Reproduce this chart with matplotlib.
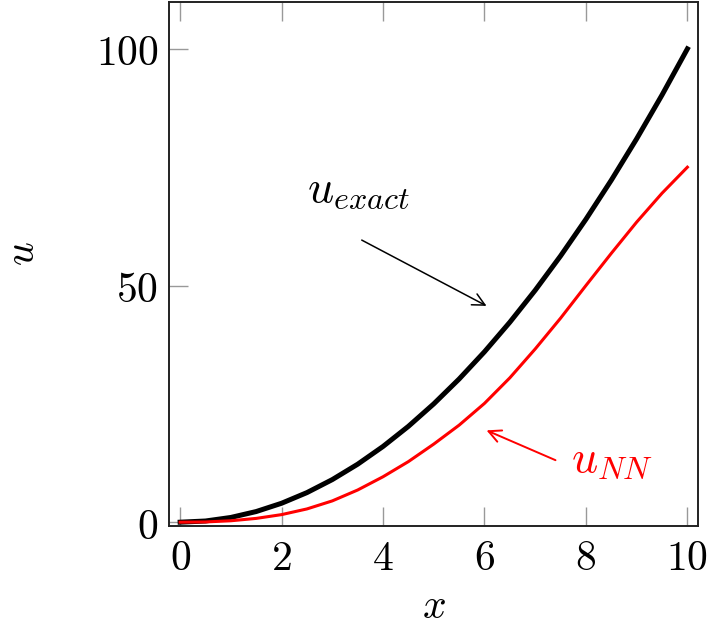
import matplotlib
matplotlib.use("Agg")
import matplotlib.pyplot as plt

# values
x_vals = [0, 0.5, 1, 1.5, 2, 2.5, 3, 3.5, 4, 4.5, 5, 5.5, 6, 6.5, 7, 7.5, 8, 8.5, 9, 9.5, 10]
u_exact = [0, 0.25, 1, 2.25, 4, 6.25, 9, 12.25, 16, 20.25, 25, 30.25, 36, 42.25,
           49, 56.25, 64, 72.25, 81, 90.25, 100]
u_nn = [0, 0.05, 0.3, 0.8, 1.6, 2.8, 4.5, 6.8, 9.6, 12.8, 16.5, 20.5, 25.1, 30.5,
        36.6, 43.1, 50.0, 56.8, 63.4, 69.5, 75.0]
x_ticks = [0, 2, 4, 6, 8, 10]
u_ticks = [0, 50, 100]

plt.rcParams['mathtext.fontset'] = 'cm'
FS = 30
FS_NOTE = 33

fig = plt.figure(figsize=(7.08, 6.35), dpi=100)
ax = fig.add_axes([0.2394, 0.1717, 0.7458, 0.8259])

ax.plot(x_vals, u_exact, color='black', lw=3.6, solid_joinstyle='round')
ax.plot(x_vals, u_nn, color='red', lw=2.2, solid_joinstyle='round')

ax.set_xlim(-0.21, 10.2)
ax.set_ylim(-0.8, 110)

ax.set_xticks(x_ticks)
ax.set_xticklabels([f'${t}$' for t in x_ticks], fontsize=FS)
ax.set_yticks(u_ticks)
ax.set_yticklabels([f'${t}$' for t in u_ticks], fontsize=FS)
ax.tick_params(axis='both', direction='in', length=14, width=1.0, color='#999999', pad=8)
ax.tick_params(axis='x', top=True)
for s in ax.spines.values():
    s.set_linewidth(1.4)
    s.set_color('#222222')

ax.set_xlabel('$x$', fontsize=FS)
ax.xaxis.set_label_coords(0.5, -0.113)
ax.set_ylabel('$u$', fontsize=FS)
ax.yaxis.set_label_coords(-0.24, 0.52)

ax.annotate('', xy=(6.04, 45.7), xytext=(3.58, 59.6),
            arrowprops=dict(arrowstyle='->', color='black', lw=1.1,
                            mutation_scale=22, shrinkA=0, shrinkB=0))
ax.text(3.52, 70.3, r'$u_{exact}$', fontsize=FS_NOTE, ha='center', va='center', color='black')

ax.annotate('', xy=(6.04, 19.4), xytext=(7.4, 13.1),
            arrowprops=dict(arrowstyle='->', color='red', lw=1.4,
                            mutation_scale=22, shrinkA=0, shrinkB=0))
ax.text(7.71, 13.3, r'$u_{NN}$', fontsize=FS_NOTE, ha='left', va='center', color='red')

fig.savefig('out.png', dpi=100)
